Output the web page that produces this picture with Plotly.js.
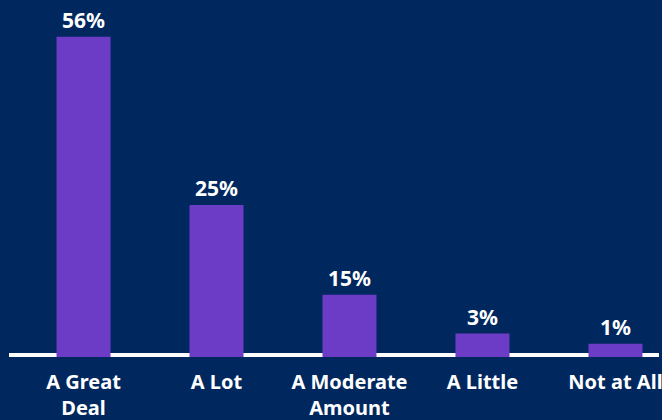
<!DOCTYPE html>
<html>
<head>
<meta charset="utf-8">
<script src="https://cdn.plot.ly/plotly-3.0.1.min.js"></script>
<style>
  html, body { margin: 0; padding: 0; background: #00285e; }
  #chart { width: 662px; height: 420px; }
</style>
</head>
<body>
<div id="chart"></div>
<script>
// Data
var categories = ["A Great<br>Deal", "A Lot", "A Moderate<br>Amount", "A Little", "Not at All"];
var barValues = [56, 26.6, 10.9, 4.1, 2.3];   // bar heights as drawn
var valueLabels = ["56%", "25%", "15%", "3%", "1%"];

var trace = {
  type: "bar",
  x: categories,
  y: barValues,
  text: valueLabels,
  textposition: "outside",
  textfont: { family: "Noto Sans, Open Sans, sans-serif", size: 21, color: "#ffffff", weight: "bold" },
  cliponaxis: false,
  width: 0.406,
  marker: { color: "#6c3cc6", line: { width: 0 } },
  hoverinfo: "none"
};

var layout = {
  width: 662,
  height: 420,
  paper_bgcolor: "#00285e",
  plot_bgcolor: "#00285e",
  margin: { l: 0, r: 0, t: 0, b: 63 },
  showlegend: false,
  xaxis: {
    type: "category",
    range: [-0.628, 4.35],
    showgrid: false,
    zeroline: false,
    showline: false,
    ticks: "",
    ticklabelstandoff: 11,
    tickfont: { family: "Noto Sans, Open Sans, sans-serif", size: 20, color: "#ffffff", weight: "bold" },
    fixedrange: true
  },
  yaxis: {
    range: [0, 62.45],
    visible: false,
    showgrid: false,
    zeroline: false,
    fixedrange: true
  },
  shapes: [{
    type: "rect",
    layer: "below",
    xref: "paper",
    x0: 9 / 662,
    x1: 659 / 662,
    yref: "y",
    ysizemode: "pixel",
    yanchor: 0,
    y0: 0,
    y1: 4,
    fillcolor: "#ffffff",
    line: { width: 0 }
  }]
};

Plotly.newPlot("chart", [trace], layout, { displayModeBar: false, staticPlot: true });
</script>
</body>
</html>
